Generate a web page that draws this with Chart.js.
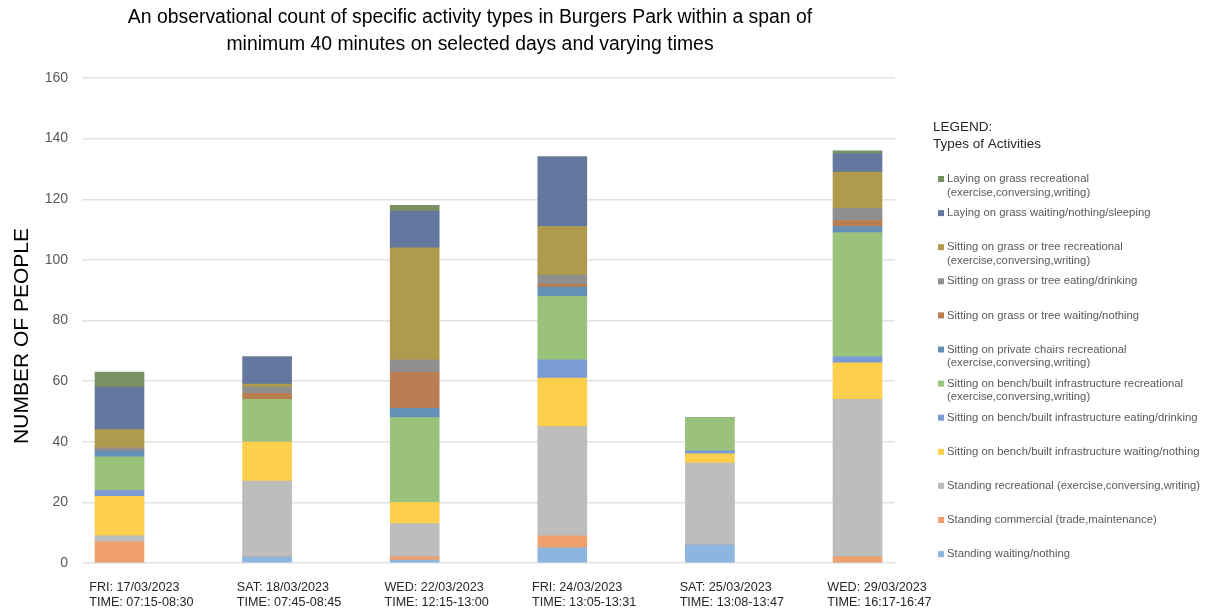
<!DOCTYPE html>
<html>
<head>
<meta charset="utf-8">
<script src="https://cdn.jsdelivr.net/npm/chart.js@4/dist/chart.umd.min.js"></script>
<style>
  html, body { margin: 0; padding: 0; background: #ffffff; }
  #wrap { width: 1209px; height: 612px; position: relative; }
</style>
</head>
<body>
<div id="wrap"><canvas id="chart" width="1209" height="612"></canvas></div>
<script>
// Observation sessions (x axis)
const dayLabels = ['FRI: 17/03/2023', 'SAT: 18/03/2023', 'WED: 22/03/2023', 'FRI: 24/03/2023', 'SAT: 25/03/2023', 'WED: 29/03/2023'];
const timeLabels = ['TIME: 07:15-08:30', 'TIME: 07:45-08:45', 'TIME: 12:15-13:00', 'TIME: 13:05-13:31', 'TIME: 13:08-13:47', 'TIME: 16:17-16:47'];

// Counts per activity type, one value per session (stacked bottom to top)
const standingWaiting      = [0, 2, 1, 5, 6, 0];
const standingCommercial   = [7, 0, 1, 4, 0, 2];
const standingRecreational = [2, 25, 11, 36, 27, 52];
const benchWaiting         = [13, 13, 7, 16, 3, 12];
const benchEating          = [2, 0, 0, 6, 1, 2];
const benchRecreational    = [11, 14, 28, 21, 11, 41];
const privateChairsRec     = [2, 0, 3, 3, 0, 2];
const grassTreeWaiting     = [0, 2, 12, 1, 0, 2];
const grassTreeEating      = [1, 2, 4, 3, 0, 4];
const grassTreeRec         = [6, 1, 37, 16, 0, 12];
const layingWaiting        = [14, 9, 12, 23, 0, 6];
const layingRecreational   = [5, 0, 2, 0, 0, 1];

// Legend entries, top to bottom (multi-line labels as arrays)
const legendLabels = [
  ['Laying on grass recreational', '(exercise,conversing,writing)'],
  ['Laying on grass waiting/nothing/sleeping'],
  ['Sitting on grass or tree recreational', '(exercise,conversing,writing)'],
  ['Sitting on grass or tree eating/drinking'],
  ['Sitting on grass or tree waiting/nothing'],
  ['Sitting on private chairs recreational', '(exercise,conversing,writing)'],
  ['Sitting on bench/built infrastructure recreational', '(exercise,conversing,writing)'],
  ['Sitting on bench/built infrastructure eating/drinking'],
  ['Sitting on bench/built infrastructure waiting/nothing'],
  ['Standing recreational (exercise,conversing,writing)'],
  ['Standing commercial (trade,maintenance)'],
  ['Standing waiting/nothing']
];

const yTicks = [0, 20, 40, 60, 80, 100, 120, 140, 160];

const FONT = '"Liberation Sans", Arial, Helvetica, sans-serif';

const seriesDefs = [
  { label: legendLabels[11], data: standingWaiting,      color: '#8cb6e0' },
  { label: legendLabels[10], data: standingCommercial,   color: '#f0a06d' },
  { label: legendLabels[9],  data: standingRecreational, color: '#bdbdbd' },
  { label: legendLabels[8],  data: benchWaiting,         color: '#fccf4c' },
  { label: legendLabels[7],  data: benchEating,          color: '#7b9bd6' },
  { label: legendLabels[6],  data: benchRecreational,    color: '#9bc27a' },
  { label: legendLabels[5],  data: privateChairsRec,     color: '#6490b8' },
  { label: legendLabels[4],  data: grassTreeWaiting,     color: '#b97d52' },
  { label: legendLabels[3],  data: grassTreeEating,      color: '#8f8f8f' },
  { label: legendLabels[2],  data: grassTreeRec,         color: '#b09a4b' },
  { label: legendLabels[1],  data: layingWaiting,        color: '#64789f' },
  { label: legendLabels[0],  data: layingRecreational,   color: '#7a9166' }
];

const datasets = seriesDefs.map(s => ({
  label: s.label.join(' '),
  lines: s.label,
  data: s.data.map((v, i) => ({ x: i, y: v })),
  backgroundColor: s.color,
  borderWidth: 0,
  barThickness: 49
}));

// Title, axis title and the right-hand legend panel
const decorations = {
  id: 'decorations',
  afterDraw(chart) {
    const ctx = chart.ctx;
    ctx.save();
    ctx.textBaseline = 'middle';

    // title
    ctx.fillStyle = '#000000';
    ctx.font = '19.4px ' + FONT;
    ctx.textAlign = 'center';
    ctx.fillText('An observational count of specific activity types in Burgers Park within a span of', 470, 18);
    ctx.fillText('minimum 40 minutes on selected days and varying times', 470, 45);

    // y axis title
    ctx.save();
    ctx.translate(22, 336);
    ctx.rotate(-Math.PI / 2);
    ctx.font = '21px ' + FONT;
    ctx.fillStyle = '#000000';
    ctx.fillText('NUMBER OF PEOPLE', 0, 0);
    ctx.restore();

    // legend heading
    ctx.textAlign = 'left';
    ctx.fillStyle = '#262626';
    ctx.font = '13.5px ' + FONT;
    ctx.fillText('LEGEND:', 933, 127);
    ctx.fillText('Types of Activities', 933, 144);

    // legend entries, top to bottom
    const ordered = chart.data.datasets.slice().reverse();
    ctx.font = '11.3px ' + FONT;
    ordered.forEach((ds, i) => {
      const y = 179 + i * 34.1;
      ctx.fillStyle = ds.backgroundColor;
      ctx.fillRect(938, y - 3, 6, 6);
      ctx.fillStyle = '#595959';
      ds.lines.forEach((line, j) => {
        ctx.fillText(line, 947, y + j * 13.5);
      });
    });
    ctx.restore();
  }
};

new Chart(document.getElementById('chart'), {
  type: 'bar',
  data: { datasets },
  plugins: [decorations],
  options: {
    responsive: false,
    animation: false,
    layout: { padding: { top: 78, right: 314, bottom: 0, left: 0 } },
    plugins: {
      legend: { display: false },
      title: { display: false },
      tooltip: { enabled: false }
    },
    scales: {
      x: {
        type: 'linear',
        stacked: true,
        offset: false,
        min: -0.254,
        max: 5.254,
        grid: { display: false },
        border: { display: false },
        afterBuildTicks(scale) {
          scale.ticks = dayLabels.map((_, i) => ({ value: i - 0.205 }));
        },
        afterFit(scale) { scale.height = 49; },
        ticks: {
          align: 'start',
          autoSkip: false,
          maxRotation: 0,
          padding: 9,
          color: '#262626',
          font: { family: FONT, size: 12.6, lineHeight: 1.2 },
          callback: (value, index) => [dayLabels[index], timeLabels[index]]
        }
      },
      y: {
        stacked: true,
        min: 0,
        max: 160,
        afterBuildTicks(scale) {
          scale.ticks = yTicks.map(v => ({ value: v }));
        },
        afterFit(scale) { scale.width = 82; },
        grid: { color: '#e2e2e2', lineWidth: 1.5, drawTicks: false },
        border: { display: false },
        ticks: {
          padding: 14,
          color: '#595959',
          font: { family: FONT, size: 14 }
        }
      }
    }
  }
});
</script>
</body>
</html>
